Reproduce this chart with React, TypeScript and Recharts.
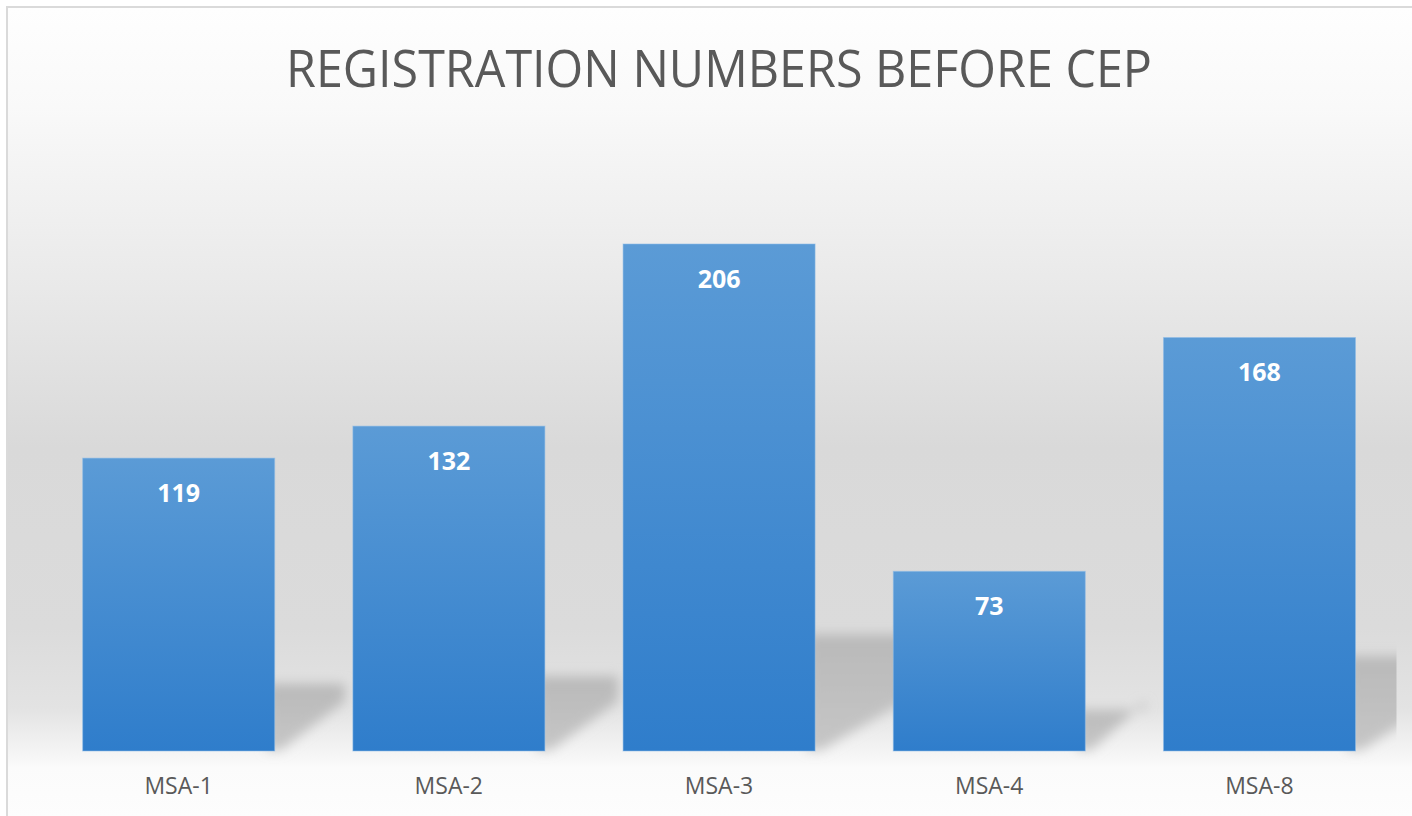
import { Bar, BarChart, LabelList, XAxis, YAxis } from 'recharts';

const categories = ['MSA-1', 'MSA-2', 'MSA-3', 'MSA-4', 'MSA-8'];
const registrations = [119, 132, 206, 73, 168];
const yDomain = [0, 250];
const title = 'REGISTRATION NUMBERS BEFORE CEP';

const W = 1412;
const H = 816;
const MARGIN = { top: 135.7, right: 17.5, left: 43.5, bottom: 25 };
const PLOT_RIGHT = W - MARGIN.right;

const rows = categories.map((name, i) => ({ name, value: registrations[i] }));

/** Bar with a soft perspective shadow cast up and to the right, like the Office style. */
function ShadowBar(props: any) {
  const { x, y, width, height } = props;
  if (!height || height <= 0) return null;
  const right = x + width;
  const bottom = y + height;
  const sh = height * 0.23;
  const sw = 44 + height * 0.09;
  const pts = [
    [right - 8, bottom - sh],
    [right + sw, bottom - sh],
    [right + sw, bottom - 50],
    [right + 6, bottom - 1],
    [right - 8, bottom - 1],
  ]
    .map((p) => p.join(','))
    .join(' ');
  return (
    <g>
      <polygon points={pts} fill="url(#gShadow)" filter="url(#fBlur)" clipPath="url(#cPlot)" />
      <rect x={x} y={y} width={width} height={height} fill="url(#gBar)" stroke="#8dbbe8" strokeOpacity={0.55} strokeWidth={1} />
    </g>
  );
}

export default function App() {
  return (
    <div style={{ position: 'absolute', left: 0, top: 0, width: W, height: H, background: '#ffffff', overflow: 'hidden' }}>
      <div
        style={{
          position: 'absolute',
          left: 6,
          top: 6,
          width: W,
          height: H,
          borderLeft: '2px solid #dadada',
          borderTop: '2px solid #dadada',
          background:
            'linear-gradient(to bottom, #fefefe 0px, #f9f9f9 100px, #e9e9e9 280px, #d9d9d9 440px, #dbdbdb 620px, #e3e3e3 700px, #f4f4f4 744px, #fbfbfb 760px, #fdfdfd 810px)',
        }}
      />
      <svg width={W} height={120} style={{ position: 'absolute', left: 0, top: 0 }}>
        <text
          x={(MARGIN.left + PLOT_RIGHT) / 2}
          y={87}
          textAnchor="middle"
          fontFamily="'Open Sans', sans-serif"
          fontSize={52}
          fill="#595959"
          textLength={866}
          lengthAdjust="spacingAndGlyphs"
        >
          {title}
        </text>
      </svg>
      <div style={{ position: 'absolute', left: 0, top: 0 }}>
        <BarChart width={W} height={H} data={rows} margin={MARGIN} barCategoryGap="14.5%">
          <defs>
            <linearGradient id="gBar" x1="0" y1="0" x2="0" y2="1">
              <stop offset="0%" stopColor="#5b9bd6" />
              <stop offset="100%" stopColor="#2f7dcb" />
            </linearGradient>
            <linearGradient id="gShadow" x1="0" y1="0" x2="0" y2="1">
              <stop offset="0%" stopColor="#b9b9b9" />
              <stop offset="100%" stopColor="#c6c6c6" />
            </linearGradient>
            <filter id="fBlur" x="-20%" y="-20%" width="140%" height="140%">
              <feGaussianBlur stdDeviation="6" />
            </filter>
            <clipPath id="cPlot">
              <rect x={0} y={0} width={PLOT_RIGHT + 2} height={H} />
            </clipPath>
          </defs>
          <XAxis
            dataKey="name"
            axisLine={false}
            tickLine={false}
            height={40}
            tickMargin={21}
            tick={{ fill: '#595959', fontSize: 23, fontFamily: "'Open Sans', sans-serif" }}
          />
          <YAxis hide domain={yDomain} />
          <Bar dataKey="value" shape={<ShadowBar />} isAnimationActive={false}>
            <LabelList
              dataKey="value"
              position="insideTop"
              offset={26}
              fill="#ffffff"
              fontSize={25}
              fontWeight="bold"
              fontFamily="'Open Sans', sans-serif"
            />
          </Bar>
        </BarChart>
      </div>
    </div>
  );
}
